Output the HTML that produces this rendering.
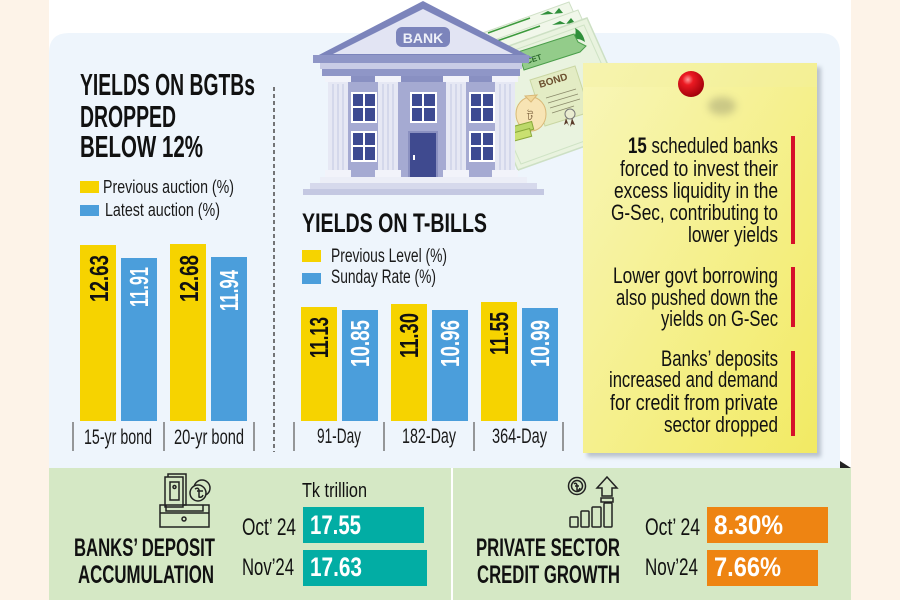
<!DOCTYPE html>
<html><head><meta charset="utf-8">
<style>
html,body{margin:0;padding:0;background:#fff;}
svg{display:block;}
text{font-family:"Liberation Sans Narrow","Liberation Sans",sans-serif;}
</style></head>
<body>
<svg xmlns="http://www.w3.org/2000/svg" width="900" height="600" viewBox="0 0 900 600">
<defs>
 <linearGradient id="note" x1="0" y1="0" x2="1" y2="1">
  <stop offset="0" stop-color="#f8f6b9"/><stop offset="1" stop-color="#f2ea63"/>
 </linearGradient>
 <radialGradient id="pin" cx="0.38" cy="0.33" r="0.7">
  <stop offset="0" stop-color="#ff9a9a"/><stop offset="0.3" stop-color="#ec1a22"/><stop offset="1" stop-color="#a0000a"/>
 </radialGradient>
 <filter id="blur" x="-50%" y="-50%" width="200%" height="200%"><feGaussianBlur stdDeviation="4"/></filter>
 <filter id="blur2" x="-10%" y="-10%" width="120%" height="120%"><feGaussianBlur stdDeviation="2"/></filter>
</defs>

<!-- background -->
<rect width="900" height="600" fill="#ffffff"/>
<rect x="0" y="0" width="49" height="600" fill="#fdf3e8"/>
<rect x="851" y="0" width="49" height="600" fill="#fdf3e8"/>
<path d="M49,468 V53 Q49,33 69,33 H820 Q840,33 840,53 V468 Z" fill="#eef5fc"/>
<polygon points="840,461 840,468 851,468" fill="#222"/>
<rect x="49" y="468" width="802" height="132" fill="#d5e8c5"/>
<rect x="451" y="468" width="2" height="132" fill="#ffffff"/>

<!-- dashed divider -->
<line x1="274" y1="87" x2="274" y2="452" stroke="#4a4a4a" stroke-width="1.5" stroke-dasharray="4 3"/>

<!-- LEFT TITLE -->
<text x="80" y="95" font-size="31" font-weight="bold" fill="#111" textLength="175" lengthAdjust="spacingAndGlyphs">YIELDS ON BGTBs</text>
<text x="80" y="127" font-size="31" font-weight="bold" fill="#111" textLength="96" lengthAdjust="spacingAndGlyphs">DROPPED</text>
<text x="80" y="157" font-size="31" font-weight="bold" fill="#111" textLength="123" lengthAdjust="spacingAndGlyphs">BELOW 12%</text>

<rect x="80" y="181" width="19" height="12" fill="#f6d300"/>
<text x="103" y="193" font-size="18" fill="#1a1a1a" textLength="131" lengthAdjust="spacingAndGlyphs">Previous auction (%)</text>
<rect x="80" y="205" width="19" height="11" fill="#4b9edb"/>
<text x="105" y="216" font-size="18" fill="#1a1a1a" textLength="115" lengthAdjust="spacingAndGlyphs">Latest auction (%)</text>

<!-- left bars -->
<rect x="80" y="245" width="36" height="176" fill="#f6d300"/>
<rect x="121" y="258" width="36" height="163" fill="#4b9edb"/>
<rect x="170" y="244" width="36" height="177" fill="#f6d300"/>
<rect x="211" y="257" width="36" height="164" fill="#4b9edb"/>
<g font-size="26" font-weight="bold" text-anchor="end">
 <text transform="translate(108,255) rotate(-90)" fill="#111" textLength="47" lengthAdjust="spacingAndGlyphs">12.63</text>
 <text transform="translate(148,267) rotate(-90)" fill="#fff" textLength="40" lengthAdjust="spacingAndGlyphs">11.91</text>
 <text transform="translate(198,255) rotate(-90)" fill="#111" textLength="47" lengthAdjust="spacingAndGlyphs">12.68</text>
 <text transform="translate(238,270) rotate(-90)" fill="#fff" textLength="41" lengthAdjust="spacingAndGlyphs">11.94</text>
</g>
<g stroke="#777" stroke-width="1.5">
 <line x1="73" y1="422" x2="73" y2="451"/>
 <line x1="164" y1="422" x2="164" y2="451"/>
 <line x1="254" y1="422" x2="254" y2="451"/>
</g>
<text x="84" y="444" font-size="21" fill="#1a1a1a" textLength="68" lengthAdjust="spacingAndGlyphs">15-yr bond</text>
<text x="174" y="444" font-size="21" fill="#1a1a1a" textLength="70" lengthAdjust="spacingAndGlyphs">20-yr bond</text>

<!-- T-BILLS -->
<text x="302" y="232" font-size="27" font-weight="bold" fill="#111" textLength="185" lengthAdjust="spacingAndGlyphs">YIELDS ON T-BILLS</text>
<rect x="302" y="250" width="19" height="12" fill="#f6d300"/>
<text x="331" y="262" font-size="19" fill="#1a1a1a" textLength="116" lengthAdjust="spacingAndGlyphs">Previous Level (%)</text>
<rect x="302" y="273" width="19" height="11" fill="#4b9edb"/>
<text x="331" y="283" font-size="19" fill="#1a1a1a" textLength="105" lengthAdjust="spacingAndGlyphs">Sunday Rate (%)</text>

<rect x="301" y="307" width="36" height="114" fill="#f6d300"/>
<rect x="342" y="310" width="36" height="111" fill="#4b9edb"/>
<rect x="391" y="304" width="36" height="117" fill="#f6d300"/>
<rect x="432" y="310" width="36" height="111" fill="#4b9edb"/>
<rect x="481" y="302" width="36" height="119" fill="#f6d300"/>
<rect x="522" y="308" width="36" height="113" fill="#4b9edb"/>
<g font-size="26" font-weight="bold" text-anchor="end">
 <text transform="translate(328,317) rotate(-90)" fill="#111" textLength="41" lengthAdjust="spacingAndGlyphs">11.13</text>
 <text transform="translate(369,320) rotate(-90)" fill="#fff" textLength="47" lengthAdjust="spacingAndGlyphs">10.85</text>
 <text transform="translate(418,313) rotate(-90)" fill="#111" textLength="45" lengthAdjust="spacingAndGlyphs">11.30</text>
 <text transform="translate(459,320) rotate(-90)" fill="#fff" textLength="47" lengthAdjust="spacingAndGlyphs">10.96</text>
 <text transform="translate(508,312) rotate(-90)" fill="#111" textLength="43" lengthAdjust="spacingAndGlyphs">11.55</text>
 <text transform="translate(549,320) rotate(-90)" fill="#fff" textLength="47" lengthAdjust="spacingAndGlyphs">10.99</text>
</g>
<g stroke="#777" stroke-width="1.5">
 <line x1="294" y1="422" x2="294" y2="451"/>
 <line x1="384" y1="422" x2="384" y2="451"/>
 <line x1="474" y1="422" x2="474" y2="451"/>
 <line x1="563" y1="422" x2="563" y2="451"/>
</g>
<text x="317" y="443" font-size="21" fill="#1a1a1a" textLength="44" lengthAdjust="spacingAndGlyphs">91-Day</text>
<text x="402" y="443" font-size="21" fill="#1a1a1a" textLength="54" lengthAdjust="spacingAndGlyphs">182-Day</text>
<text x="492" y="443" font-size="21" fill="#1a1a1a" textLength="55" lengthAdjust="spacingAndGlyphs">364-Day</text>

<!-- BONDS illustration -->
<polygon points="452,44 569,2 618,112 500,154" fill="#f1f7ea" stroke="#cfe0c6" stroke-width="1"/>
<polygon points="461,52 578,10 627,120 509,162" fill="#f1f7ea" stroke="#cfe0c6" stroke-width="1"/>
<g stroke="#3c9a3c" stroke-width="1.5">
 <line x1="488" y1="33" x2="530" y2="18"/>
 <line x1="497" y1="41" x2="540" y2="26"/>
 <line x1="505" y1="50" x2="545" y2="36"/>
</g>
<path d="M540,15 l8,-4 l6,3 l5,-6 l4,5 z" fill="#2f8f3a"/>
<path d="M552,25 l8,-4 l6,3 l5,-6 l4,5 z" fill="#2f8f3a"/>
<polygon points="470,60 587,18 636,128 518,170" fill="#e9f3df" stroke="#cde0c4" stroke-width="1.5"/>
<polygon points="476,64 584,25 629,125 521,164" fill="none" stroke="#cfe3c5" stroke-width="1"/>
<path d="M575,28 q8,4 10,14 q-6,-4 -12,-3 q4,-6 2,-11z" fill="#2f8f3a"/>
<path d="M628,120 q-10,-2 -16,4 q6,2 8,8 q3,-7 8,-12z M625,102 q-2,8 3,14 l-5,-1 z" fill="#2f8f3a"/>
<polygon points="518,52 574,34 578,42 586,46 580,52 524,70" fill="#93cc8a" stroke="#4a9e4a" stroke-width="1"/>
<text transform="translate(527,64) rotate(-18)" font-size="8" font-weight="bold" fill="#2d6b2d">CET</text>
<polygon points="530,80 575,66 590,112 545,126" fill="#e3ecc4" stroke="#c9d6a2" stroke-width="1"/>
<text transform="translate(540,88) rotate(-17)" font-size="10" font-weight="bold" fill="#6b4f2e">BOND</text>
<g stroke="#8a8a6a" stroke-width="0.8">
 <line x1="546" y1="98" x2="576" y2="89"/>
 <line x1="548" y1="103" x2="578" y2="94"/>
 <line x1="550" y1="108" x2="580" y2="99"/>
 <line x1="552" y1="113" x2="574" y2="106"/>
</g>
<circle cx="570" cy="114" r="5" fill="#e9ecd0" stroke="#777" stroke-width="1"/>
<path d="M566,118 l-2,7 l3,-2 l2,3 z M572,118 l3,7 l-3,-1 l-2,3 z" fill="#5a3b2a"/>
<ellipse cx="531" cy="114" rx="15" ry="17" fill="#f7e4b4" stroke="#d9b877" stroke-width="1"/>
<path d="M525,96 l6,6 l6,-7 z" fill="#f1d89a" stroke="#d9b877" stroke-width="1"/>
<text x="527" y="120" font-size="11" fill="#6b4f2e">ট</text>
<rect x="513" y="124" width="20" height="8" fill="#bcd96a" stroke="#8aa83a" stroke-width="1" transform="rotate(-15 523 128)"/>
<rect x="511" y="131" width="20" height="8" fill="#c9e070" stroke="#8aa83a" stroke-width="1" transform="rotate(-15 521 135)"/>

<!-- BANK illustration -->
<polygon points="313,58 423,1 533,58" fill="#7c84bb"/>
<polygon points="333,54 423,9 513,54" fill="#e2e4f3"/>
<rect x="396" y="27" width="54" height="20" rx="6" fill="#7c84bb"/>
<text x="423" y="43" font-size="14" font-weight="bold" fill="#eef0f8" text-anchor="middle" font-family="Liberation Sans, sans-serif">BANK</text>
<rect x="313" y="55" width="216" height="8" fill="#8f96c7"/>
<rect x="320" y="63" width="202" height="6" fill="#c9cce6"/>
<rect x="322" y="69" width="198" height="7" fill="#8f96c7"/>
<rect x="332" y="76" width="183" height="102" fill="#a5aad2"/>
<rect x="332" y="76" width="183" height="6" fill="#8990c2"/>
<!-- windows -->
<g>
 <rect x="351" y="92" width="26" height="31" fill="#fff"/>
 <rect x="353" y="94" width="22" height="27" fill="#3d4a92"/>
 <rect x="363" y="94" width="2" height="27" fill="#fff"/><rect x="353" y="106" width="22" height="2" fill="#fff"/>
 <rect x="410" y="92" width="27" height="31" fill="#fff"/>
 <rect x="412" y="94" width="23" height="27" fill="#3d4a92"/>
 <rect x="422" y="94" width="2" height="27" fill="#fff"/><rect x="412" y="106" width="23" height="2" fill="#fff"/>
 <rect x="469" y="92" width="26" height="31" fill="#fff"/>
 <rect x="471" y="94" width="22" height="27" fill="#3d4a92"/>
 <rect x="481" y="94" width="2" height="27" fill="#fff"/><rect x="471" y="106" width="22" height="2" fill="#fff"/>
 <rect x="351" y="131" width="26" height="31" fill="#fff"/>
 <rect x="353" y="133" width="22" height="27" fill="#3d4a92"/>
 <rect x="363" y="133" width="2" height="27" fill="#fff"/><rect x="353" y="145" width="22" height="2" fill="#fff"/>
 <rect x="469" y="131" width="26" height="31" fill="#fff"/>
 <rect x="471" y="133" width="22" height="27" fill="#3d4a92"/>
 <rect x="481" y="133" width="2" height="27" fill="#fff"/><rect x="471" y="145" width="22" height="2" fill="#fff"/>
</g>
<rect x="408" y="131" width="30" height="52" fill="#8a90c0"/>
<rect x="410" y="133" width="26" height="50" fill="#3f4a8f"/>
<rect x="413" y="155" width="2" height="5" fill="#fff"/>
<!-- columns -->
<g>
 <rect x="325" y="76" width="26" height="6" fill="#f2f3fa"/><rect x="328" y="82" width="20" height="90" fill="#e6e8f4"/>
 <rect x="378" y="76" width="26" height="6" fill="#f2f3fa" transform="translate(-3 0)"/><rect x="378" y="82" width="20" height="90" fill="#e6e8f4"/>
 <rect x="443" y="76" width="26" height="6" fill="#f2f3fa"/><rect x="446" y="82" width="20" height="90" fill="#e6e8f4"/>
 <rect x="492" y="76" width="26" height="6" fill="#f2f3fa"/><rect x="495" y="82" width="20" height="90" fill="#e6e8f4"/>
 <g stroke="#c3c7e2" stroke-width="1">
  <line x1="333" y1="84" x2="333" y2="170"/><line x1="338" y1="84" x2="338" y2="170"/><line x1="343" y1="84" x2="343" y2="170"/>
  <line x1="383" y1="84" x2="383" y2="170"/><line x1="388" y1="84" x2="388" y2="170"/><line x1="393" y1="84" x2="393" y2="170"/>
  <line x1="451" y1="84" x2="451" y2="170"/><line x1="456" y1="84" x2="456" y2="170"/><line x1="461" y1="84" x2="461" y2="170"/>
  <line x1="500" y1="84" x2="500" y2="170"/><line x1="505" y1="84" x2="505" y2="170"/><line x1="510" y1="84" x2="510" y2="170"/>
 </g>
 <rect x="325" y="170" width="26" height="7" fill="#f2f3fa"/>
 <rect x="375" y="170" width="26" height="7" fill="#f2f3fa"/>
 <rect x="443" y="170" width="26" height="7" fill="#f2f3fa"/>
 <rect x="492" y="170" width="26" height="7" fill="#f2f3fa"/>
</g>
<rect x="320" y="177" width="207" height="6" fill="#eceef7"/>
<rect x="310" y="183" width="227" height="6" fill="#d6d9ec"/>
<rect x="303" y="189" width="241" height="6" fill="#c4c8e2"/>

<!-- STICKY NOTE -->
<rect x="587" y="67" width="234" height="390" fill="#8e98a6" opacity="0.55" filter="url(#blur2)"/>
<rect x="583" y="63" width="234" height="390" fill="url(#note)"/>
<rect x="583" y="63" width="234" height="24" fill="#f3f0a0" opacity="0.4"/>
<ellipse cx="722" cy="106" rx="14" ry="9" fill="#7a7a60" opacity="0.35" filter="url(#blur)"/>
<circle cx="691" cy="84" r="13" fill="url(#pin)"/>

<rect x="791" y="136" width="4" height="108" fill="#d6102a"/>
<rect x="791" y="267" width="4" height="60" fill="#d6102a"/>
<rect x="791" y="351" width="4" height="85" fill="#d6102a"/>

<g font-size="22" fill="#111" text-anchor="end">
 <text x="778" y="153" textLength="150" lengthAdjust="spacingAndGlyphs"><tspan font-weight="bold">15</tspan> scheduled banks</text>
 <text x="778" y="176" textLength="158" lengthAdjust="spacingAndGlyphs">forced to invest their</text>
 <text x="778" y="198" textLength="164" lengthAdjust="spacingAndGlyphs">excess liquidity in the</text>
 <text x="778" y="220" textLength="167" lengthAdjust="spacingAndGlyphs">G-Sec, contributing to</text>
 <text x="778" y="242" textLength="90" lengthAdjust="spacingAndGlyphs">lower yields</text>
 <text x="778" y="283" textLength="165" lengthAdjust="spacingAndGlyphs">Lower govt borrowing</text>
 <text x="778" y="305" textLength="162" lengthAdjust="spacingAndGlyphs">also pushed down the</text>
 <text x="778" y="326" textLength="117" lengthAdjust="spacingAndGlyphs">yields on G-Sec</text>
 <text x="778" y="366" textLength="117" lengthAdjust="spacingAndGlyphs">Banks’ deposits</text>
 <text x="778" y="387" textLength="169" lengthAdjust="spacingAndGlyphs">increased and demand</text>
 <text x="778" y="410" textLength="168" lengthAdjust="spacingAndGlyphs">for credit from private</text>
 <text x="778" y="432" textLength="114" lengthAdjust="spacingAndGlyphs">sector dropped</text>
</g>

<!-- BOTTOM LEFT -->
<g fill="none" stroke="#222" stroke-width="1.5">
 <rect x="168" y="474" width="18" height="31"/>
 <rect x="165" y="477" width="18" height="30" fill="#d5e8c5"/>
 <rect x="170" y="482" width="9" height="18"/>
 <circle cx="174.5" cy="487" r="1.5"/>
 <circle cx="202" cy="488" r="8"/>
 <circle cx="198" cy="493" r="8" fill="#d5e8c5"/>
 <path d="M195,489 q3,-2 4,1 v7 q3,1 4,-2 M197,491 h6"/>
 <path d="M160,505 h49 v22 h-49 z"/>
 <path d="M166,505 v6 h37 v-6"/>
 <line x1="160" y1="513" x2="209" y2="513"/>
 <circle cx="184" cy="519" r="2"/>
</g>
<text x="74" y="556" font-size="25" font-weight="bold" fill="#111" textLength="141" lengthAdjust="spacingAndGlyphs">BANKS’ DEPOSIT</text>
<text x="78" y="583" font-size="25" font-weight="bold" fill="#111" textLength="136" lengthAdjust="spacingAndGlyphs">ACCUMULATION</text>

<text x="302" y="497" font-size="20" fill="#111" textLength="65" lengthAdjust="spacingAndGlyphs">Tk trillion</text>
<text x="242" y="535" font-size="24" fill="#111" textLength="54" lengthAdjust="spacingAndGlyphs">Oct’ 24</text>
<text x="242" y="575" font-size="24" fill="#111" textLength="52" lengthAdjust="spacingAndGlyphs">Nov’24</text>
<rect x="303" y="507" width="121" height="36" fill="#02ada4"/>
<rect x="303" y="550" width="124" height="36" fill="#02ada4"/>
<text x="310" y="534" font-size="27" font-weight="bold" fill="#fff" textLength="51" lengthAdjust="spacingAndGlyphs">17.55</text>
<text x="310" y="576" font-size="27" font-weight="bold" fill="#fff" textLength="52" lengthAdjust="spacingAndGlyphs">17.63</text>

<!-- BOTTOM RIGHT -->
<g fill="none" stroke="#222" stroke-width="1.5">
 <circle cx="577" cy="486" r="8.5"/>
 <circle cx="577" cy="486" r="5.5"/>
 <path d="M574,484 q2,-2 3,1 v5 q2,1 3,-2 M575,486 h4"/>
 <path d="M607,477 l10,11 h-5 v8 h-10 v-8 h-5 z"/>
 <rect x="601" y="498" width="12" height="4"/>
 <rect x="570" y="517" width="8" height="10" rx="1"/>
 <rect x="581" y="511" width="8" height="16" rx="1"/>
 <rect x="592" y="507" width="9" height="20" rx="1"/>
 <rect x="604" y="503" width="8" height="24" rx="1"/>
</g>
<text x="476" y="556" font-size="25" font-weight="bold" fill="#111" textLength="144" lengthAdjust="spacingAndGlyphs">PRIVATE SECTOR</text>
<text x="477" y="583" font-size="25" font-weight="bold" fill="#111" textLength="143" lengthAdjust="spacingAndGlyphs">CREDIT GROWTH</text>

<text x="645" y="535" font-size="24" fill="#111" textLength="55" lengthAdjust="spacingAndGlyphs">Oct’ 24</text>
<text x="645" y="575" font-size="24" fill="#111" textLength="53" lengthAdjust="spacingAndGlyphs">Nov’24</text>
<rect x="707" y="507" width="121" height="36" fill="#ee8412"/>
<rect x="707" y="550" width="111" height="36" fill="#ee8412"/>
<text x="714" y="534" font-size="27" font-weight="bold" fill="#fff" textLength="69" lengthAdjust="spacingAndGlyphs">8.30%</text>
<text x="714" y="576" font-size="27" font-weight="bold" fill="#fff" textLength="67" lengthAdjust="spacingAndGlyphs">7.66%</text>
</svg>
</body></html>
